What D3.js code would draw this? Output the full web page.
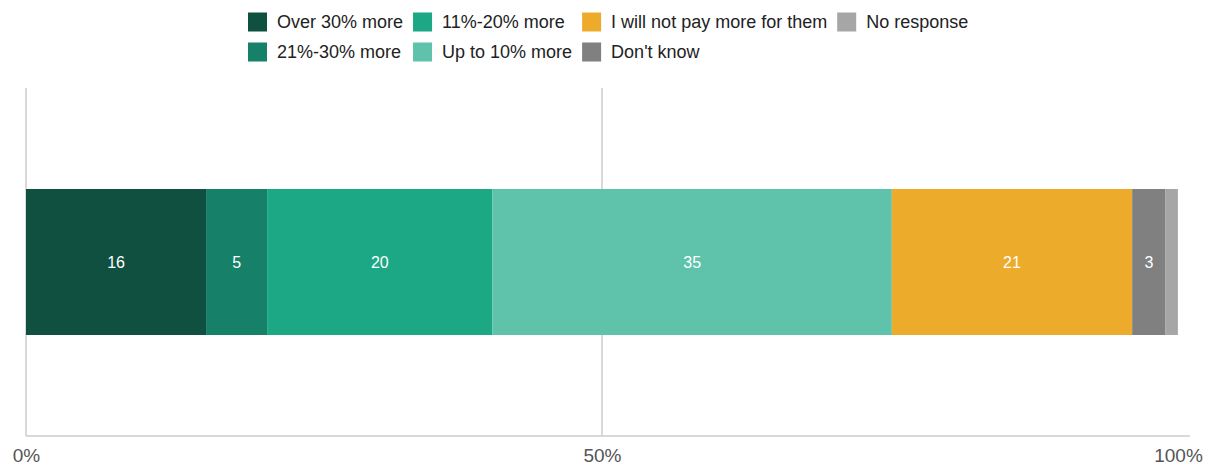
<!DOCTYPE html>
<html><head><meta charset="utf-8">
<script src="https://cdn.jsdelivr.net/npm/d3@7"></script>
<style>
html,body{margin:0;padding:0;background:#fff;}
svg{display:block;font-family:"Liberation Sans",Arial,sans-serif;}
</style></head>
<body>
<svg id="chart" width="1205" height="466"></svg>
<script>
const categories = ["Over 30% more","21%-30% more","11%-20% more","Up to 10% more","I will not pay more for them","Don't know","No response"];
const values = [15.63, 5.30, 19.56, 34.67, 20.86, 2.90, 1.07];
const labels = ["16","5","20","35","21","3",""];
const colors = ["#0f5040","#178068","#1ca884","#5ec3aa","#edab2c","#808080","#a6a6a6"];
const tickValues = [0, 50, 100];
const tickLabels = ["0%","50%","100%"];
// legend layout: columns of items (column-major, 2 rows)
const legendColumns = [[0,1],[2,3],[4,5],[6]];

const svg = d3.select("#chart");
const x = d3.scaleLinear().domain([0,100]).range([26,1178]);
const y0 = 88, yBase = 436, barTop = 189, barBottom = 335;

// gridlines
svg.append("g").selectAll("line").data([0,50]).join("line")
  .attr("x1", d=>x(d)).attr("x2", d=>x(d)).attr("y1", y0).attr("y2", yBase)
  .attr("stroke", "#cccccc").attr("stroke-width", 1.5);
// baseline
svg.append("line").attr("x1", x(0)).attr("x2", 1190).attr("y1", yBase).attr("y2", yBase)
  .attr("stroke", "#cccccc").attr("stroke-width", 1.5);

// stacked segments
let cum = 0;
const segs = values.map((v,i)=>{const s={i, start:cum, end:cum+v}; cum+=v; return s;});
svg.append("g").selectAll("rect").data(segs).join("rect")
  .attr("x", d=>x(d.start)).attr("width", d=>x(d.end)-x(d.start))
  .attr("y", barTop).attr("height", barBottom-barTop)
  .attr("fill", d=>colors[d.i]);
svg.append("g").selectAll("text").data(segs).join("text")
  .attr("x", d=>(x(d.start)+x(d.end))/2).attr("y", (barTop+barBottom)/2)
  .attr("dy", "0.4em").attr("text-anchor","middle")
  .attr("fill","#ffffff").attr("font-size","16px")
  .text(d=>labels[d.i]);

// axis tick labels
const axis = d3.axisBottom(x).tickValues(tickValues).tickFormat((d,i)=>tickLabels[i]).tickSize(0).tickPadding(13);
const ag = svg.append("g").attr("transform",`translate(0,${yBase})`).call(axis);
ag.select(".domain").remove();
ag.selectAll("text").attr("font-size","19px").attr("fill","#555555")
  .attr("font-family","'Liberation Sans',Arial,sans-serif");

// legend
const lg = svg.append("g");
let lx = 248;
const rowY = [22, 52];
legendColumns.forEach(col=>{
  let maxW = 0;
  col.forEach((ci,r)=>{
    lg.append("rect").attr("x", lx).attr("y", rowY[r]-9.5).attr("width",19).attr("height",19).attr("fill",colors[ci]);
    const t = lg.append("text").attr("x", lx+29).attr("y", rowY[r]).attr("dy","0.36em")
      .attr("font-size","18px").attr("fill","#222222").text(categories[ci]);
    maxW = Math.max(maxW, t.node().getComputedTextLength());
  });
  lx += 29 + maxW + 10;
});
</script>
</body></html>
